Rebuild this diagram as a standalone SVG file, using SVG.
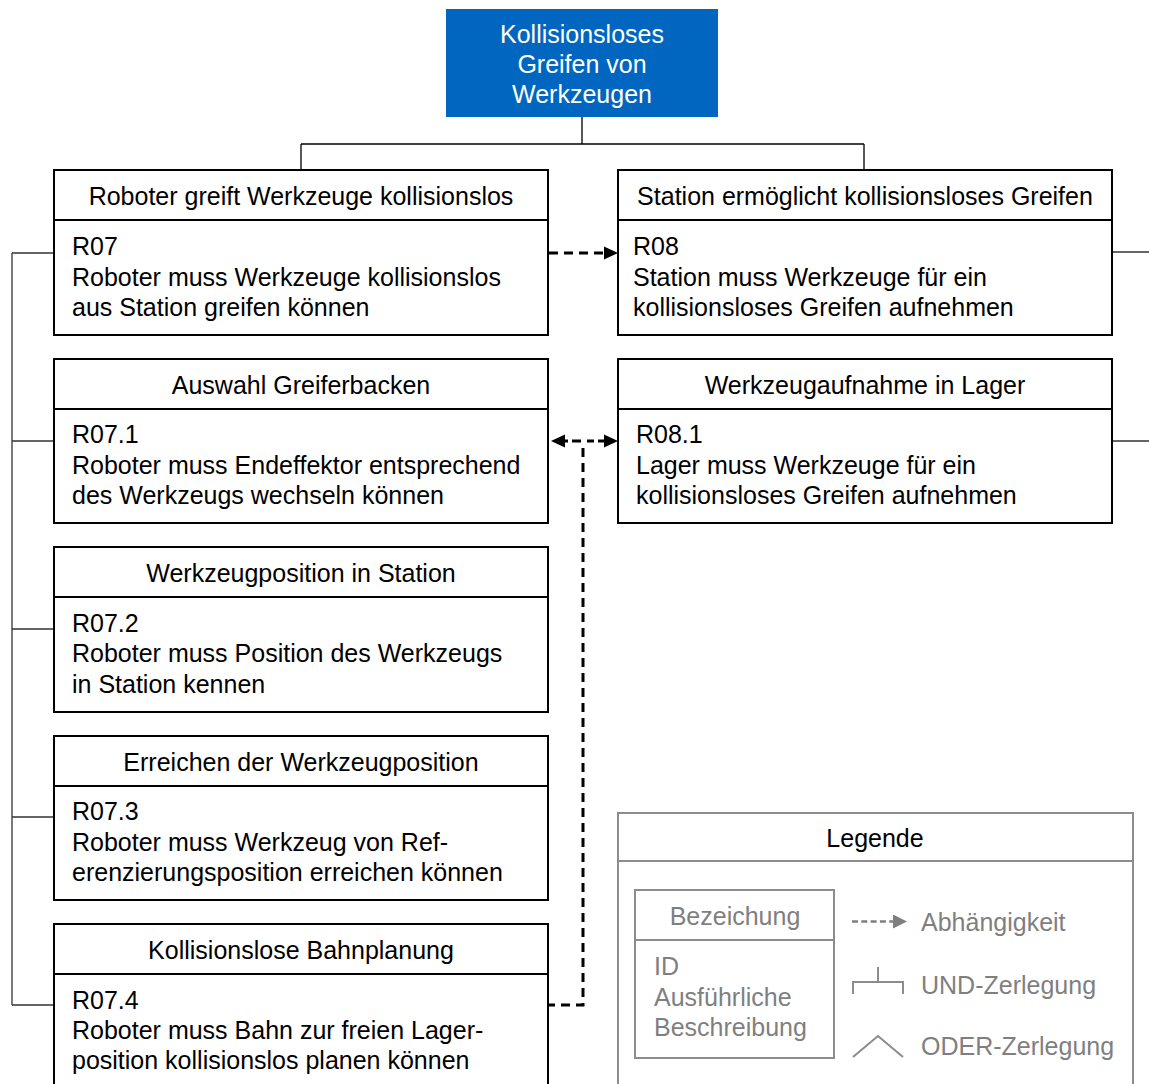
<svg xmlns="http://www.w3.org/2000/svg" width="1149" height="1084" viewBox="0 0 1149 1084">
  <style>
    text { font-family: "Liberation Sans", Arial, sans-serif; font-size: 25px; fill: #000; }
    .mid { text-anchor: middle; }
    .box { fill: #fff; stroke: #000; stroke-width: 2; }
    .sep { stroke: #000; stroke-width: 2; }
    .tree { fill: none; stroke: #000; stroke-width: 1.3; }
    .bracket { fill: none; stroke: #333; stroke-width: 1.3; }
    .dep { fill: none; stroke: #000; stroke-width: 3; stroke-dasharray: 9 6; }
    .lg { fill: none; stroke: #8c8c8c; stroke-width: 2; }
    .lgt { fill: #7f7f7f; }
    .root text { fill: #fff; }
  </style>
  <defs>
    <marker id="arrow" markerUnits="userSpaceOnUse" markerWidth="16" markerHeight="16" refX="0" refY="7" orient="auto">
      <path d="M0,0.5 L14,7 L0,13.5 Z" fill="#000"/>
    </marker>
    <marker id="arrowGrey" markerUnits="userSpaceOnUse" markerWidth="16" markerHeight="16" refX="0" refY="7" orient="auto">
      <path d="M0,0 L14,7 L0,14 Z" fill="#7f7f7f"/>
    </marker>
  </defs>

  <!-- connectors -->
  <g id="connectors">
    <!-- AND decomposition of the root goal -->
    <path class="tree" d="M582,117 V144 M301,144 H864 M301,144 V170 M864,144 V170"/>
    <!-- bracket joining the R07 sub-requirements -->
    <path class="bracket" d="M12,253 V1005 M12,253 H54 M12,441 H54 M12,629 H54 M12,817 H54 M12,1005 H54"/>
    <!-- continuation lines to the right -->
    <path class="bracket" d="M1112,252 H1149 M1112,441 H1149"/>
    <!-- dependencies -->
    <path class="dep" d="M549,253 H604" marker-end="url(#arrow)"/>
    <path class="dep" d="M572,441 H594" stroke-dasharray="none"/>
    <path class="dep" d="M598,441 H604" stroke-dasharray="none" marker-end="url(#arrow)"/>
    <path class="dep" d="M568,441 H565" stroke-dasharray="none" marker-end="url(#arrow)"/>
    <path class="dep" d="M583,448 V1005 H549"/>
  </g>

  <!-- root goal -->
  <g id="root" class="root">
    <rect x="446" y="9" width="272" height="108" fill="#0066bf"/>
    <text class="mid" x="582" y="43">Kollisionsloses</text>
    <text class="mid" x="582" y="73">Greifen von</text>
    <text class="mid" x="582" y="103">Werkzeugen</text>
  </g>

  <g id="r07">
    <rect class="box" x="54" y="170" width="494" height="165"/>
    <line class="sep" x1="54" y1="220" x2="548" y2="220"/>
    <text class="mid" x="301" y="205">Roboter greift Werkzeuge kollisionslos</text>
    <text x="72" y="255">R07</text>
    <text x="72" y="286">Roboter muss Werkzeuge kollisionslos</text>
    <text x="72" y="316">aus Station greifen können</text>
  </g>

  <g id="r08">
    <rect class="box" x="618" y="170" width="494" height="165"/>
    <line class="sep" x1="618" y1="220" x2="1112" y2="220"/>
    <text class="mid" x="865" y="205">Station ermöglicht kollisionsloses Greifen</text>
    <text x="633" y="255">R08</text>
    <text x="633" y="286">Station muss Werkzeuge für ein</text>
    <text x="633" y="316">kollisionsloses Greifen aufnehmen</text>
  </g>

  <g id="r07_1">
    <rect class="box" x="54" y="359" width="494" height="164"/>
    <line class="sep" x1="54" y1="409" x2="548" y2="409"/>
    <text class="mid" x="301" y="394">Auswahl Greiferbacken</text>
    <text x="72" y="443">R07.1</text>
    <text x="72" y="474">Roboter muss Endeffektor entsprechend</text>
    <text x="72" y="504">des Werkzeugs wechseln können</text>
  </g>

  <g id="r08_1">
    <rect class="box" x="618" y="359" width="494" height="164"/>
    <line class="sep" x1="618" y1="409" x2="1112" y2="409"/>
    <text class="mid" x="865" y="394">Werkzeugaufnahme in Lager</text>
    <text x="636" y="443">R08.1</text>
    <text x="636" y="474">Lager muss Werkzeuge für ein</text>
    <text x="636" y="504">kollisionsloses Greifen aufnehmen</text>
  </g>

  <g id="r07_2">
    <rect class="box" x="54" y="547" width="494" height="165"/>
    <line class="sep" x1="54" y1="597" x2="548" y2="597"/>
    <text class="mid" x="301" y="582">Werkzeugposition in Station</text>
    <text x="72" y="632">R07.2</text>
    <text x="72" y="662">Roboter muss Position des Werkzeugs</text>
    <text x="72" y="693">in Station kennen</text>
  </g>

  <g id="r07_3">
    <rect class="box" x="54" y="736" width="494" height="164"/>
    <line class="sep" x1="54" y1="786" x2="548" y2="786"/>
    <text class="mid" x="301" y="771">Erreichen der Werkzeugposition</text>
    <text x="72" y="820">R07.3</text>
    <text x="72" y="851">Roboter muss Werkzeug von Ref-</text>
    <text x="72" y="881">erenzierungsposition erreichen können</text>
  </g>

  <g id="r07_4">
    <rect class="box" x="54" y="924" width="494" height="165"/>
    <line class="sep" x1="54" y1="974" x2="548" y2="974"/>
    <text class="mid" x="301" y="959">Kollisionslose Bahnplanung</text>
    <text x="72" y="1009">R07.4</text>
    <text x="72" y="1039">Roboter muss Bahn zur freien Lager-</text>
    <text x="72" y="1069">position kollisionslos planen können</text>
  </g>

  <!-- legend -->
  <g id="legend">
    <rect class="lg" x="618" y="813" width="515" height="280" fill="#fff"/>
    <line class="lg" x1="618" y1="861" x2="1133" y2="861"/>
    <text class="mid" x="875" y="847">Legende</text>
    <rect class="lg" x="635" y="890" width="199" height="168"/>
    <line class="lg" x1="635" y1="940" x2="834" y2="940"/>
    <text class="mid lgt" x="735" y="925">Bezeichung</text>
    <text class="lgt" x="654" y="975">ID</text>
    <text class="lgt" x="654" y="1006">Ausführliche</text>
    <text class="lgt" x="654" y="1036">Beschreibung</text>
    <path d="M852,921.5 H893" fill="none" stroke="#7f7f7f" stroke-width="2.4" stroke-dasharray="6 3.3" marker-end="url(#arrowGrey)"/>
    <text class="lgt" x="921" y="931">Abhängigkeit</text>
    <path class="lg" d="M853,994 V982 H903 V994 M878,982 V967"/>
    <text class="lgt" x="921" y="994">UND-Zerlegung</text>
    <path class="lg" d="M853,1057 L878,1036 L903,1057"/>
    <text class="lgt" x="921" y="1055">ODER-Zerlegung</text>
  </g>
</svg>
